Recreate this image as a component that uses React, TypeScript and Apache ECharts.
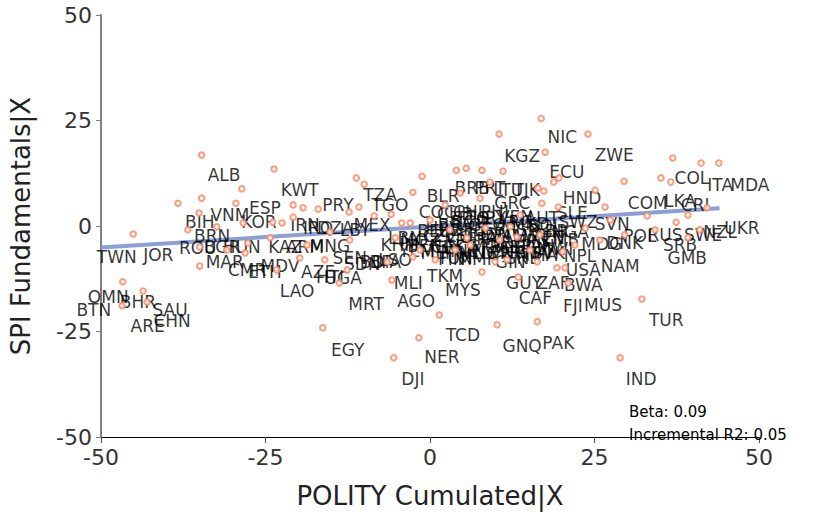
import React, { useEffect, useRef } from "react";
import * as echarts from "echarts";

// Country labels (as placed in the picture)
const countries = [
  "NIC","KGZ","ZWE","ECU","ALB","KWT","COL","ITA","MDA","ESP","PRY","TZA","TGO","BLR","BRB","PRT","LTU","TJK","GRC","HND",
  "COM","LKA","CRI","BIH","VNM","KOR","BRN","ROU","BGR","HUN","KAZ","ARM","MNG","IRN","IRQ","DZA","LBY","MEX","KHM","MAR",
  "CMR","ETH","MDV","AZE","LAO","HTI","UGA","SEN","SDN","BDI","BFA","LSO","MLI","TKM","MYS","AGO","MRT","EGY","NER","DJI",
  "TCD","GNQ","PAK","GUY","ZAF","BWA","CAF","FJI","MUS","NPL","USA","NAM","MDG","DNK","TUR","IND","GMB","SRB","POL","RUS",
  "SWE","NZL","UKR","SVN","SLE","SWZ","NGA","TWN","JOR","OMN","BTN","BHR","SAU","ARE","CHN","COG","CUB","CHL","PHL","BRA",
  "BGD","GEO","ARG","MKD","BOL","HRV","CZE","EST","GHA","IDN","JAM","LVA","KEN","ZMB","MOZ","LBN","BEN","CIV","DOM","GTM",
  "GAB","PER","PAN","MWI","TUN","MMR","GIN","GNB","THA","BEL","CYP","DEU","FRA","GBR","IRL","ISR","JPN","LBR","MLT",
  "MNE","NLD","NOR","PNG","RWA","SVK","TTO","URY","VEN","YEM","AUT","FIN"
];
const labelX = [
  20.1,14.0,28.0,20.8,-31.3,-19.8,39.8,44.1,48.6,-25.1,-14.0,-7.6,-6.1,2.0,6.4,9.1,11.9,14.7,12.5,23.1,
  33.1,38.0,40.3,-35.0,-30.4,-26.0,-33.1,-35.3,-31.6,-28.6,-22.0,-19.0,-15.2,-19.0,-17.0,-14.4,-11.4,-8.8,-4.6,-31.2,
  -27.8,-25.1,-22.8,-17.0,-20.2,-15.2,-13.2,-12.2,-10.3,-8.4,-6.8,-5.3,-3.3,2.3,5.0,-2.1,-9.7,-12.5,1.8,-2.6,
  5.0,14.0,19.5,14.3,18.7,23.3,16.0,21.7,26.3,22.8,23.3,28.9,26.1,29.6,35.9,32.1,39.1,38.0,31.9,35.7,
  41.5,44.1,47.4,27.7,21.6,22.5,21.3,-47.6,-41.3,-48.9,-51.1,-44.4,-39.5,-42.9,-39.2,1.2,3.8,6.1,10.2,3.8,
  6.1,8.7,12.9,15.2,17.5,2.0,1.5,4.6,7.3,9.9,12.5,15.2,17.9,19.8,-1.5,-3.8,-0.8,2.3,5.3,8.4,
  11.1,13.7,16.4,19.0,3.8,7.3,12.2,14.0,16.7,0.5,3.0,5.8,8.0,10.5,12.0,14.5,16.0,18.5,1.0,
  4.5,7.0,9.5,12.0,15.0,18.0,6.5,9.0,13.0,-2.0,17.0,3.3
];
const labelY = [
  21.0,16.6,16.8,12.8,12.1,8.5,11.4,9.7,9.7,4.3,5.0,7.3,5.0,7.1,9.0,9.0,8.5,8.5,5.4,6.6,
  5.4,5.9,5.0,0.9,2.6,0.9,-2.3,-5.2,-5.0,-5.0,-5.0,-5.0,-4.7,0.2,-0.5,-0.5,-0.9,0.2,-4.5,-8.5,
  -10.4,-10.9,-9.5,-10.9,-15.4,-12.1,-12.3,-7.6,-9.0,-8.5,-8.5,-8.0,-13.5,-11.8,-15.1,-17.7,-18.4,-29.3,-31.0,-36.2,
  -25.8,-28.4,-27.7,-13.5,-13.5,-14.0,-17.0,-18.9,-18.7,-7.1,-10.4,-9.5,-4.3,-4.0,-22.2,-36.2,-7.6,-4.5,-2.4,-2.1,
  -2.1,-1.4,-0.5,0.5,3.1,0.9,-1.4,-7.3,-6.9,-16.8,-19.9,-18.0,-19.9,-23.7,-22.5,3.3,2.8,3.3,3.3,0.2,
  0.9,0.2,0.9,0.5,0.0,-0.5,-2.4,-2.1,-2.6,-1.9,-2.4,-2.1,-2.8,-3.3,-3.3,-2.8,-4.7,-5.0,-5.2,-4.7,
  -5.0,-5.2,-4.7,-5.4,-7.6,-7.8,-8.5,-7.6,-6.9,-1.2,-3.5,-0.9,-3.0,-0.6,-3.8,-1.0,-3.6,-1.2,-6.3,
  -6.0,-6.3,-6.5,-6.2,-6.4,-6.5,1.8,2.0,2.2,-6.0,1.8,-7.8
];

// Scatter points (POLITY Cumulated|X, SPI Fundamentals|X)
const pointX = [
  16.9,10.5,24.0,17.5,4.0,5.5,7.9,11.1,18.8,19.6,17.3,16.4,9.1,7.6,17.0,26.6,25.1,36.9,41.2,43.9,
  29.5,35.1,36.6,42.1,39.2,37.4,33.0,39.2,-34.7,-23.7,-28.6,-34.7,-38.3,-29.5,-35.1,-45.1,-23.9,-32.4,-28.4,-11.2,
  -10.0,-1.2,-2.6,-20.8,-19.3,-17.0,-12.3,-10.8,-8.5,-5.9,-20.8,-22.5,4.6,-24.3,-27.7,-30.9,-35.0,-18.7,-16.0,-19.8,
  -23.3,-35.0,-12.6,-2.6,-5.8,7.9,11.7,13.2,19.3,20.5,-4.3,-3.0,19.5,8.4,5.6,12.2,-13.8,-6.5,1.4,-16.3,
  -1.7,-5.5,9.9,20.2,22.0,13.4,16.3,21.0,10.2,16.3,28.9,32.2,-46.7,-46.8,-43.6,-43.0,-28.1,-36.8,0.0,3.0,
  6.1,13.7,15.2,2.3,10.6,16.7,3.8,23.6,25.8,27.4,29.6,34.2,41.0,-1.5,0.8,-5.3,-12.2,-15.2
];
const pointY = [
  25.5,21.8,21.8,17.5,13.2,13.7,13.2,13.0,10.4,11.4,8.3,9.0,10.4,6.6,5.4,4.5,8.5,16.1,14.9,14.9,
  10.6,11.4,10.4,4.3,2.6,0.9,2.4,-2.8,16.8,13.5,8.8,6.6,5.4,5.4,3.1,-1.9,0.9,-0.2,0.7,11.4,
  9.9,11.8,8.0,5.0,4.3,4.0,3.3,4.5,2.4,2.8,2.1,0.7,7.8,-2.8,-4.0,-5.7,-5.0,-4.5,-8.0,-7.6,
  -10.4,-9.5,-10.4,-7.3,-12.8,-10.9,-8.0,-2.6,-9.9,-9.9,0.7,0.7,4.5,-0.5,-2.8,-0.2,-13.5,-8.5,-21.1,-24.1,
  -26.5,-31.2,-8.5,-6.1,-4.5,-12.1,-8.5,-13.5,-23.4,-22.7,-31.2,-17.3,-13.2,-18.9,-15.4,-18.0,-6.4,-0.9,1.4,-0.9,
  -4.5,2.6,-5.7,5.0,-3.3,-2.1,-5.7,-0.5,-3.3,1.4,-2.1,-0.9,-0.9,-5.7,-8.0,-2.8,-3.3,-1.4
];

// Fitted regression line
const fitX = [-50, 44];
const fitY = [-5.1, 4.2];

const axisTicks = [-50, -25, 0, 25, 50];
const betaText = "Beta: 0.09";
const r2Text = "Incremental R2: 0.05";

export default function App() {
  const ref = useRef<HTMLDivElement>(null);
  useEffect(() => {
    document.body.style.margin = "0";
    if (!ref.current) return;
    const chart = echarts.init(ref.current, undefined, { renderer: "svg" });
    const font = "DejaVu Sans";
    chart.setOption({
      animation: false,
      backgroundColor: "#ffffff",
      grid: { left: 101, right: 65, top: 15, bottom: 79 },
      xAxis: {
        type: "value",
        min: axisTicks[0],
        max: axisTicks[axisTicks.length - 1],
        interval: 25,
        name: "POLITY Cumulated|X",
        nameLocation: "middle",
        nameGap: 46,
        nameTextStyle: { fontFamily: font, fontSize: 26, color: "#222" },
        axisLine: { show: true, onZero: false, lineStyle: { color: "#000", width: 1 } },
        axisTick: { show: true, inside: false, length: 6, lineStyle: { color: "#555" } },
        axisLabel: { fontFamily: font, fontSize: 22, color: "#333", margin: 9 },
        splitLine: { show: false },
      },
      yAxis: {
        type: "value",
        min: axisTicks[0],
        max: axisTicks[axisTicks.length - 1],
        interval: 25,
        name: "SPI Fundamentals|X",
        nameLocation: "middle",
        nameGap: 67,
        nameTextStyle: { fontFamily: font, fontSize: 26, color: "#222" },
        axisLine: { show: true, onZero: false, lineStyle: { color: "#808080", width: 2 } },
        axisTick: { show: true, inside: false, length: 5, lineStyle: { color: "#808080" } },
        axisLabel: { fontFamily: font, fontSize: 22, color: "#333", margin: 9 },
        splitLine: { show: false },
      },
      series: [
        {
          type: "line",
          data: fitX.map((x, i) => [x, fitY[i]]),
          symbol: "none",
          lineStyle: { color: "#7d95d1", width: 4, opacity: 0.9 },
          z: 1,
          silent: true,
        },
        {
          type: "scatter",
          data: countries.map((c, i) => ({ name: c, value: [labelX[i], labelY[i]] })),
          symbolSize: 0,
          clip: false,
          label: {
            show: true,
            position: "inside",
            formatter: (p: any) => p.name,
            fontFamily: font,
            fontSize: 17,
            color: "#000",
          },
          z: 2,
          silent: true,
        },
        {
          type: "scatter",
          data: pointX.map((x, i) => [x, pointY[i]]),
          symbol: "emptyCircle",
          symbolSize: 5.5,
          itemStyle: { color: "#ff8a66", borderColor: "#ff8a66", borderWidth: 3, opacity: 0.85 },
          z: 3,
          silent: true,
        },
      ],
      graphic: [
        {
          type: "text",
          left: 629,
          top: 404,
          z: 10,
          style: { text: betaText, fontFamily: font, fontSize: 15, fill: "#000" },
        },
        {
          type: "text",
          left: 629,
          top: 427,
          z: 10,
          style: { text: r2Text, fontFamily: font, fontSize: 15, fill: "#000" },
        },
      ],
    });
    return () => chart.dispose();
  }, []);
  return <div ref={ref} style={{ width: 824, height: 516 }} />;
}
